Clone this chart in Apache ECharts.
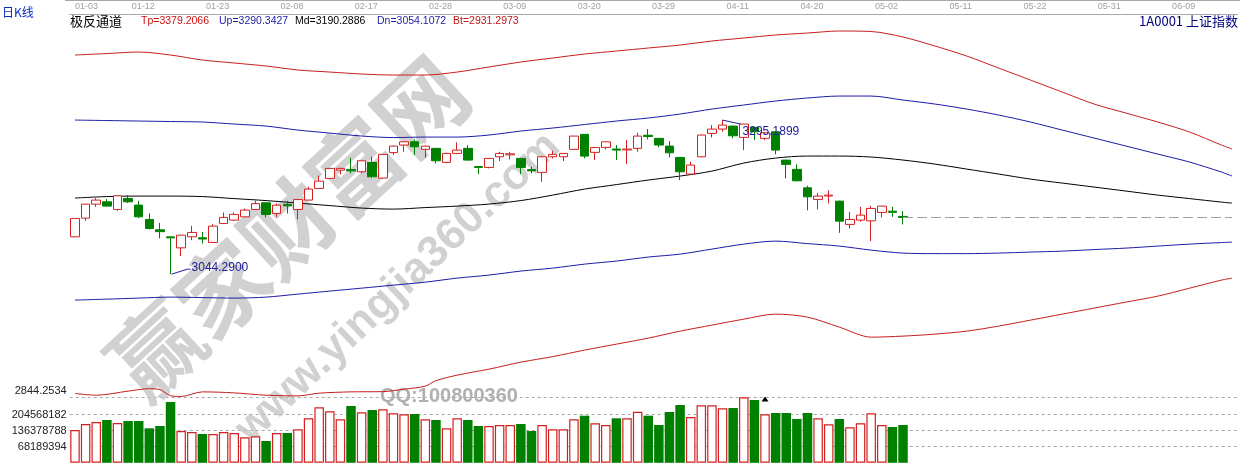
<!DOCTYPE html>
<html><head><meta charset="utf-8">
<script src="https://cdn.jsdelivr.net/npm/echarts@6/dist/echarts.min.js"></script>
<style>html,body{margin:0;padding:0;background:#fff;overflow:hidden}#c{width:1240px;height:463px}</style>
</head><body><div id="c"></div>
<script>
const dates = ['01-03','01-04','01-05','01-06','01-09','01-10','01-11','01-12','01-13','01-16','01-17','01-18','01-19','01-20','01-23','01-24','01-25','01-26',
'02-03','02-06','02-07','02-08','02-09','02-10','02-13','02-14','02-15','02-16','02-17','02-20','02-21','02-22','02-23','02-24','02-27','02-28',
'03-01','03-02','03-03','03-06','03-07','03-08','03-09','03-10','03-13','03-14','03-15','03-16','03-17','03-20','03-21','03-22','03-23','03-24','03-27','03-28','03-29','03-30','03-31',
'04-05','04-06','04-07','04-10','04-11','04-12','04-13','04-14','04-17','04-18','04-19','04-20','04-21','04-24','04-25','04-26','04-27','04-28',
'05-02','05-03',
'05-04','05-05','05-08','05-09','05-10','05-11','05-12','05-15','05-16','05-17','05-18','05-19','05-22','05-23','05-24','05-25','05-26','05-29','05-30','05-31',
'06-01','06-02','06-05','06-06','06-07','06-08','06-09','06-12','06-13','06-14','06-15'];

const opens  = [3105.1,3135.5,3158.3,3162.1,3149.7,3167.6,3156.7,3133.4,3116.5,3105.0,3087.1,3105.1,3103.5,3095.9,3126.9,3132.3,3137.6,3149.7,3160.5,3143.2,3158.0,3149.7,3164.9,3183.9,3200.2,3213.7,3214.5,3211.0,3226.3,3200.7,3242.2,3254.5,3259.8,3247.5,3249.1,3226.3,3240.9,3249.1,3219.5,3218.1,3235.4,3238.5,3232.8,3214.5,3210.0,3235.4,3235.4,3247.5,3271.9,3242.6,3250.7,3248.0,3246.5,3249.1,3270.5,3265.4,3252.8,3234.4,3207.2,3235.4,3273.5,3280.5,3285.4,3267.0,3283.3,3265.4,3276.1,3230.0,3214.9,3184.9,3166.0,3171.5,3163.2,3125.3,3132.3,3131.1,3144.8,3146.8,3138.3];
const closes = [3135.0,3158.3,3164.9,3155.1,3171.9,3162.1,3137.6,3118.7,3113.5,3103.4,3107.8,3112.2,3101.5,3122.5,3136.7,3141.6,3148.6,3159.2,3141.6,3156.7,3155.5,3165.7,3182.8,3195.8,3216.5,3216.5,3212.5,3228.9,3202.8,3239.3,3252.8,3259.8,3251.7,3252.8,3228.9,3240.9,3246.3,3230.0,3218.1,3232.8,3240.9,3240.3,3218.1,3212.5,3235.4,3239.3,3240.9,3269.1,3236.5,3250.4,3259.8,3246.3,3248.0,3269.1,3268.5,3254.5,3241.9,3211.0,3221.9,3270.8,3280.5,3287.0,3269.6,3288.7,3276.1,3274.5,3246.3,3223.0,3196.3,3170.2,3171.4,3173.0,3130.6,3133.4,3140.4,3151.3,3155.1,3144.9,3136.6];
const lows   = [3104.6,3131.1,3153.9,3154.5,3147.4,3160.0,3135.5,3117.1,3102.5,3044.29,3073.6,3099.7,3094.3,3095.0,3126.0,3130.6,3137.0,3149.0,3136.7,3137.2,3143.2,3133.4,3164.0,3183.0,3199.5,3206.7,3208.4,3208.4,3200.2,3200.0,3238.7,3243.5,3238.2,3234.1,3224.6,3225.0,3239.8,3228.9,3207.2,3216.5,3228.4,3231.2,3207.2,3208.4,3194.7,3232.8,3228.4,3247.0,3232.8,3230.0,3247.5,3230.0,3223.5,3243.5,3263.7,3250.7,3234.4,3197.4,3206.5,3234.5,3267.0,3276.1,3265.4,3246.3,3262.6,3262.6,3239.3,3200.2,3195.5,3148.1,3149.7,3159.5,3111.6,3118.7,3129.5,3098.1,3136.7,3137.6,3125.3];
const highs  = [3135.5,3158.8,3168.1,3166.5,3172.5,3173.0,3163.7,3143.2,3127.9,3105.5,3108.5,3123.0,3113.2,3125.8,3144.8,3144.8,3151.3,3163.7,3161.0,3159.5,3163.7,3166.5,3186.8,3204.8,3217.0,3217.5,3233.8,3229.5,3235.7,3240.0,3253.5,3260.5,3263.7,3253.5,3250.0,3242.0,3258.9,3254.5,3219.8,3233.5,3243.5,3243.5,3233.5,3219.1,3236.0,3245.2,3241.5,3269.5,3272.5,3251.0,3260.5,3254.5,3262.6,3274.5,3280.5,3266.0,3261.0,3235.0,3227.3,3271.5,3287.0,3295.19,3286.0,3289.0,3284.0,3275.0,3276.5,3230.5,3223.0,3188.2,3176.6,3180.7,3164.0,3145.8,3153.9,3155.6,3155.5,3153.9,3146.9];

const volumes = [138900000,164300000,172800000,181300000,168600000,177000000,177000000,146100000,155900000,257500000,
134700000,130400000,122000000,122000000,130400000,126200000,108000000,112200000,92300000,126200000,
126200000,141900000,188500000,235100000,218100000,184200000,240600000,213900000,223600000,226600000,
209600000,205400000,206700000,184200000,181300000,146100000,188500000,181300000,155900000,155900000,
160100000,160100000,164300000,134700000,160100000,141900000,141900000,184200000,199500000,167300000,
160100000,188500000,188500000,216400000,199500000,160100000,215200000,244800000,194000000,243500000,
243500000,230800000,232100000,277400000,266000000,205400000,210900000,210900000,185500000,210900000,
188500000,163100000,185500000,150400000,167300000,209600000,160100000,151600000,160100000];

const lineIdx = [0,3,6,9,12,15,18,21,24,27,30,33,36,39,42,45,48,51,54,57,60,63,66,69,72,75,78,81,84,87,90,93,96,99,102,105,108,109];
const tpLine = [3401.1,3403.5,3406.0,3401.1,3393.0,3388.1,3383.2,3376.7,3373.4,3370.2,3368.5,3368.5,3373.4,3381.6,3389.7,3396.2,3402.7,3407.6,3412.5,3417.4,3423.9,3428.8,3433.7,3436.9,3440.2,3439.4,3430.4,3415.8,3399.5,3379.9,3360.4,3340.8,3321.3,3306.6,3292.0,3275.7,3254.5,3248.0];
const upLine = [3295.2,3294.4,3293.6,3292.8,3292.0,3288.7,3285.4,3278.9,3274.0,3269.2,3266.7,3267.5,3267.5,3270.8,3277.3,3282.2,3287.9,3293.6,3298.5,3305.0,3313.1,3319.7,3326.2,3331.1,3334.3,3334.3,3327.8,3321.3,3313.1,3303.4,3292.0,3278.9,3265.9,3252.9,3239.8,3226.8,3210.5,3204.0];
const mdLine = [3168.2,3170.6,3171.4,3171.4,3170.6,3167.3,3164.1,3160.0,3155.9,3151.9,3150.2,3152.7,3155.1,3158.4,3164.1,3173.0,3182.8,3190.1,3197.5,3204.0,3212.1,3225.2,3233.3,3236.6,3236.6,3235.0,3230.1,3223.5,3215.4,3207.3,3199.1,3192.6,3186.1,3179.6,3173.0,3167.3,3161.6,3160.0];
const dnLine = [3002.0,3003.6,3005.3,3006.9,3006.1,3005.3,3006.9,3011.8,3016.7,3021.5,3026.4,3031.3,3037.8,3042.8,3049.3,3054.1,3060.6,3065.6,3072.1,3076.9,3085.1,3093.2,3098.1,3094.0,3090.0,3083.4,3078.6,3077.7,3077.7,3078.6,3080.2,3081.8,3084.3,3086.7,3090.0,3093.2,3095.7,3096.5];
const btIdx  = [0,2,5,7,8,9,10,12,15,18,21,23,26,29,31,33,34,36,39,42,45,48,51,54,57,60,63,66,69,72,75,78,81,84,87,90,93,96,99,102,105,108,109];
const btLine = [2850.0,2847.2,2853.8,2857.8,2856.2,2846.4,2845.1,2852.6,2851.0,2847.2,2846.1,2850.5,2852.6,2853.0,2857.0,2861.9,2870.9,2879.8,2889.6,2901.0,2910.0,2920.6,2930.3,2940.1,2951.5,2961.3,2971.0,2979.2,2974.3,2958.0,2941.7,2943.4,2946.6,2951.5,2959.7,2969.4,2979.2,2989.0,2998.8,3008.5,3021.5,3034.6,3037.8];

const headerLabels = ['Tp=3379.2066','Up=3290.3427','Md=3190.2886','Dn=3054.1072','Bt=2931.2973'];
const priceMin = 2844.2534, priceMax = 3467.9;
const volStep = 68189394;
const lowMark = {idx: 9, value: 3044.29, text: '3044.2900'};
const highMark = {idx: 61, value: 3295.19, text: '3295.1899'};

const RED = '#d42020', GREEN = '#008000', BLUE = '#1c1ca6', LRED = '#c81e1e';
const FONT = '"Liberation Sans", Arial, sans-serif';
const CJK = '"Noto Sans CJK SC", sans-serif';

const chart = echarts.init(document.getElementById('c'));
const candleData = opens.map((o, i) => [o, closes[i], lows[i], highs[i]]);
const lastClose = closes[closes.length - 1];
const pair = (idx, arr) => arr.map((v, i) => [idx[i], v]);
const mkLine = (name, idx, arr, color) => ({
  name, type: 'line', xAxisIndex: 0, yAxisIndex: 0, data: pair(idx, arr), showSymbol: false, smooth: 0.3,
  clip: false, lineStyle: {color, width: 1}, itemStyle: {color}, silent: true, z: 3
});
const gridL = 69.7, gridR = 2.6;

chart.setOption({
  animation: false,
  backgroundColor: '#fff',
  grid: [
    {left: gridL, right: gridR, top: 14, bottom: 463 - 397},
    {left: gridL, right: gridR, top: 398.4, height: 64.4}
  ],
  xAxis: [
    {type: 'category', gridIndex: 0, data: dates, position: 'top', boundaryGap: true,
     axisLine: {show: true, lineStyle: {color: '#a8a8a8', width: 1}}, axisTick: {show: false},
     axisLabel: {interval: 6, color: '#a0a0a0', fontSize: 9, fontFamily: FONT, margin: 3, padding: [0, 12, 0, 0], alignMinLabel: 'left'},
     splitLine: {show: false}},
    {type: 'category', gridIndex: 1, data: dates, boundaryGap: true, show: false}
  ],
  yAxis: [
    {type: 'value', gridIndex: 0, min: priceMin, max: priceMax, interval: priceMax - priceMin,
     axisLine: {show: false}, axisTick: {show: false},
     axisLabel: {color: '#222', fontSize: 11, fontFamily: FONT, margin: 3, verticalAlign: 'bottom', lineHeight: 12,
       formatter: v => Math.abs(v - priceMin) < 1e-6 ? priceMin.toFixed(4) : ''},
     splitLine: {show: true, showMaxLine: false, lineStyle: {color: '#a8a8a8', type: [3, 3], width: 1}}},
    {type: 'value', gridIndex: 1, min: 0, max: volStep * 4, interval: volStep,
     axisLine: {show: false}, axisTick: {show: false},
     axisLabel: {color: '#222', fontSize: 11, fontFamily: FONT, margin: 3,
       formatter: v => (v > 0 && v < volStep * 4) ? String(v) : ''},
     splitLine: {show: true, showMinLine: false, showMaxLine: false, lineStyle: {color: '#a8a8a8', type: [3, 3], width: 1}}}
  ],
  series: [
    mkLine('Tp', lineIdx, tpLine, LRED), mkLine('Up', lineIdx, upLine, BLUE), mkLine('Md', lineIdx, mdLine, '#000'),
    mkLine('Dn', lineIdx, dnLine, BLUE), mkLine('Bt', btIdx, btLine, LRED),
    {type: 'candlestick', xAxisIndex: 0, yAxisIndex: 0, data: candleData, barWidth: 9, z: 4,
     itemStyle: {color: '#ffffff', color0: GREEN, borderColor: RED, borderColor0: GREEN, borderWidth: 1},
     markLine: {silent: true, symbol: ['none', 'none'], label: {show: false},
       lineStyle: {color: '#a0a0a0', type: [10, 4], width: 1},
       data: [[{coord: [closes.length - 1, lastClose]}, {coord: [dates.length - 1, lastClose]}]]}},
    {type: 'bar', xAxisIndex: 1, yAxisIndex: 1, barWidth: 9.5, clip: false,
     data: volumes.map((v, i) => ({value: v, itemStyle: closes[i] >= opens[i]
        ? {color: '#ffffff', borderColor: RED, borderWidth: 1.2}
        : {color: GREEN, borderColor: GREEN, borderWidth: 0}})),
     markPoint: {silent: true, data: [{coord: [65, 270000000], symbol: 'triangle', symbolSize: [7, 5],
       itemStyle: {color: '#000'}, label: {show: false}}]}}
  ]
});

const lp = chart.convertToPixel({gridIndex: 0}, [lowMark.idx, lowMark.value]);
const hp = chart.convertToPixel({gridIndex: 0}, [highMark.idx, highMark.value]);
const headerX = [141, 219, 295, 377, 453];
const headerColors = ['#d01010', BLUE, '#000', BLUE, '#c01818'];
const g = [
  {type: 'text', x: 288, y: 228, rotation: 0.745, z: 0, style: {text: '赢家财富网', font: 'bold 90px ' + CJK, fill: 'rgba(190,190,190,0.7)', align: 'center', verticalAlign: 'middle'}},
  {type: 'text', x: 398, y: 288, rotation: 0.76, z: 0, style: {text: 'www.yingjia360.com', font: 'bold 44px ' + FONT, fill: 'rgba(190,190,190,0.7)', align: 'center', verticalAlign: 'middle'}},
  {type: 'text', x: 380, y: 396, z: 0, style: {text: 'QQ:100800360', font: 'bold 20px ' + FONT, fill: '#b0b0b0', align: 'left', verticalAlign: 'middle'}},
  {type: 'line', z: 10, shape: {x1: 65, y1: 0.5, x2: 1240, y2: 0.5}, style: {stroke: '#a8a8a8', lineWidth: 1}},
  {type: 'text', x: 2, y: 12, z: 10, style: {text: '日K线', font: '12px ' + CJK, fill: '#0a2ac8', align: 'left', verticalAlign: 'middle'}},
  {type: 'text', x: 70, y: 21, z: 10, style: {text: '极反通道', font: '13px ' + CJK, fill: '#000', align: 'left', verticalAlign: 'middle'}},
  {type: 'text', x: 1238, y: 21, z: 10, style: {text: '1A0001 上证指数', font: '13px ' + CJK, fill: '#000080', align: 'right', verticalAlign: 'middle'}},
  {type: 'polyline', z: 10, shape: {points: [[lp[0] + 1, lp[1]], [lp[0] + 17, lp[1] - 5], [lp[0] + 20, lp[1] - 5]]}, style: {stroke: '#20209a', lineWidth: 1, fill: null}},
  {type: 'text', x: lp[0] + 21, y: lp[1] - 6, z: 10, style: {text: lowMark.text, font: '12px ' + FONT, fill: '#20209a', align: 'left', verticalAlign: 'middle'}},
  {type: 'polyline', z: 10, shape: {points: [[hp[0], hp[1]], [hp[0] + 18, hp[1] + 4]]}, style: {stroke: '#20209a', lineWidth: 1, fill: null}},
  {type: 'text', x: hp[0] + 20, y: hp[1] + 12, z: 10, style: {text: highMark.text, font: '12px ' + FONT, fill: '#20209a', align: 'left', verticalAlign: 'middle'}}
];
headerLabels.forEach((t, i) => g.push({type: 'text', x: headerX[i], y: 21, z: 10,
  style: {text: t, font: '10.5px ' + FONT, fill: headerColors[i], align: 'left', verticalAlign: 'middle'}}));
chart.setOption({graphic: g});
</script></body></html>
